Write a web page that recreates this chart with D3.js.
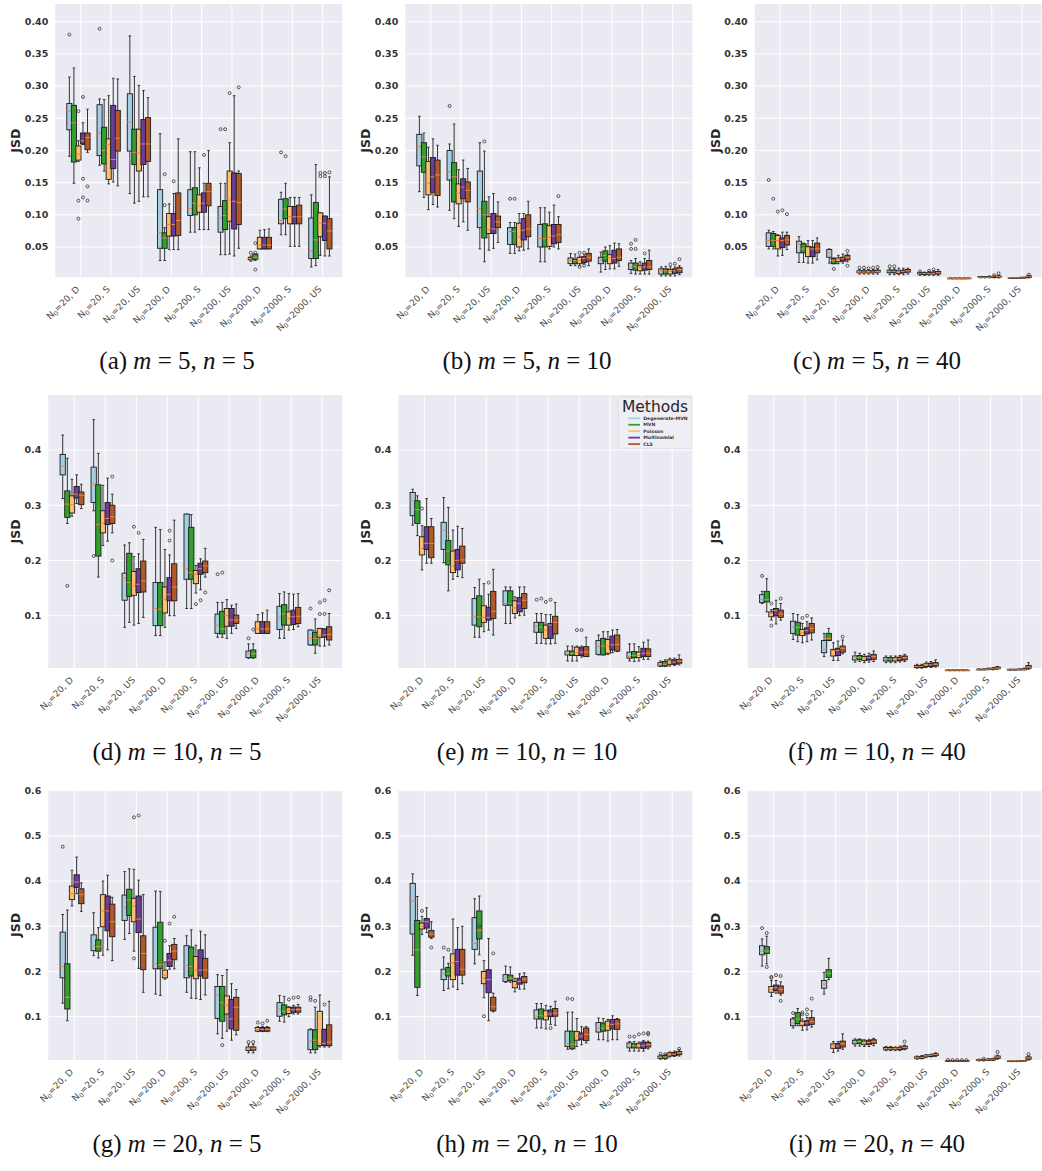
<!DOCTYPE html>
<html>
<head>
<meta charset="utf-8">
<script src="https://cdn.jsdelivr.net/npm/d3@7"></script>
<style>
  body { margin: 0; background: #fff; }
  svg { display: block; }
</style>
</head>
<body>
<svg id="fig" width="1042" height="1171"></svg>
<script>
// ---- categories and series ----
const groupLabels = [["20", "D"], ["20", "S"], ["20", "US"], ["200", "D"], ["200", "S"], ["200", "US"], ["2000", "D"], ["2000", "S"], ["2000", "US"]];
const methods = ["Degenerate-MVN", "MVN", "Poisson", "Multinomial", "CLS"];
const methodColors = ["#a6cee3", "#33a02c", "#fdbf6f", "#6a3d9a", "#b15928"];

// y tick labels for each row of panels
const ticksRow1 = [0.05, 0.10, 0.15, 0.20, 0.25, 0.30, 0.35, 0.40];
const ticksRow2 = [0.1, 0.2, 0.3, 0.4];
const ticksRow3 = [0.1, 0.2, 0.3, 0.4, 0.5, 0.6];

// panel captions: tag, m, n
const captionTags = ["a", "b", "c", "d", "e", "f", "g", "h", "i"];
const captionM = [5, 5, 5, 10, 10, 10, 20, 20, 20];
const captionN = [5, 10, 40, 5, 10, 40, 5, 10, 40];

// Box statistics per group (9) and method (5): [lowWhisker, q1, median, q3, highWhisker, outliers]
const panelA = [
  [[0.191,0.232,0.261,0.273,0.314,[0.380]],[0.149,0.182,0.243,0.270,0.328,[]],[0.183,0.185,0.194,0.207,0.215,[0.261,0.122,0.094]],[0.209,0.210,0.215,0.227,0.243,[0.283,0.156,0.127]],[0.197,0.201,0.220,0.227,0.264,[0.144,0.122]]],
  [[0.177,0.192,0.227,0.271,0.280,[0.389]],[0.168,0.179,0.200,0.236,0.279,[]],[0.148,0.155,0.209,0.218,0.285,[]],[0.151,0.172,0.186,0.270,0.312,[]],[0.145,0.199,0.219,0.262,0.311,[]]],
  [[0.133,0.199,0.244,0.288,0.378,[]],[0.118,0.178,0.197,0.233,0.315,[]],[0.121,0.168,0.196,0.233,0.301,[]],[0.128,0.178,0.210,0.248,0.293,[]],[0.128,0.183,0.210,0.251,0.282,[]]],
  [[0.029,0.048,0.072,0.139,0.226,[]],[0.029,0.048,0.064,0.072,0.080,[0.163,0.115]],[0.046,0.067,0.085,0.102,0.117,[]],[0.046,0.067,0.085,0.102,0.133,[0.152]],[0.046,0.068,0.091,0.134,0.218,[]]],
  [[0.073,0.099,0.110,0.139,0.198,[]],[0.073,0.100,0.118,0.142,0.198,[]],[0.077,0.104,0.114,0.131,0.173,[]],[0.077,0.104,0.118,0.134,0.149,[0.193]],[0.077,0.114,0.136,0.149,0.200,[]]],
  [[0.038,0.073,0.095,0.113,0.149,[0.233]],[0.038,0.077,0.099,0.122,0.149,[0.233]],[0.039,0.090,0.123,0.168,0.212,[0.289]],[0.036,0.078,0.121,0.165,0.285,[]],[0.048,0.085,0.119,0.164,0.168,[0.298]]],
  [[0.028,0.030,0.032,0.034,0.036,[0.041]],[0.029,0.031,0.034,0.039,0.039,[0.041,0.056,0.015]],[0.047,0.047,0.053,0.065,0.076,[]],[0.047,0.047,0.053,0.065,0.077,[]],[0.047,0.047,0.053,0.065,0.078,[]]],
  [[0.069,0.086,0.091,0.124,0.135,[0.197]],[0.069,0.094,0.109,0.125,0.149,[0.191]],[0.051,0.086,0.097,0.113,0.127,[]],[0.051,0.086,0.097,0.113,0.127,[]],[0.051,0.086,0.097,0.115,0.127,[]]],
  [[0.019,0.032,0.044,0.095,0.131,[]],[0.021,0.032,0.061,0.119,0.178,[]],[0.037,0.066,0.087,0.103,0.103,[0.165,0.160]],[0.036,0.060,0.087,0.098,0.098,[0.165,0.160]],[0.036,0.047,0.075,0.094,0.159,[0.166]]]
];
const panelB = [
  [[0.136,0.176,0.206,0.225,0.253,[]],[0.127,0.166,0.190,0.212,0.227,[]],[0.108,0.131,0.149,0.183,0.205,[]],[0.116,0.135,0.159,0.189,0.218,[]],[0.112,0.130,0.162,0.185,0.208,[]]],
  [[0.107,0.154,0.167,0.200,0.210,[0.269]],[0.094,0.120,0.159,0.181,0.241,[]],[0.082,0.117,0.134,0.148,0.170,[]],[0.089,0.125,0.143,0.156,0.185,[]],[0.076,0.120,0.138,0.151,0.172,[]]],
  [[0.047,0.080,0.110,0.168,0.212,[]],[0.027,0.064,0.100,0.121,0.199,[0.214]],[0.045,0.071,0.077,0.097,0.128,[]],[0.048,0.071,0.078,0.102,0.133,[]],[0.057,0.080,0.089,0.098,0.120,[]]],
  [[0.040,0.054,0.074,0.080,0.088,[0.125]],[0.040,0.054,0.074,0.080,0.088,[0.125]],[0.044,0.050,0.066,0.087,0.102,[]],[0.045,0.061,0.076,0.094,0.102,[]],[0.047,0.066,0.078,0.100,0.121,[]]],
  [[0.027,0.050,0.063,0.085,0.111,[]],[0.027,0.050,0.063,0.086,0.111,[]],[0.047,0.051,0.065,0.083,0.104,[]],[0.050,0.055,0.067,0.085,0.115,[]],[0.047,0.057,0.069,0.085,0.097,[0.129]]],
  [[0.021,0.024,0.029,0.033,0.040,[]],[0.021,0.024,0.029,0.031,0.039,[]],[0.021,0.024,0.029,0.034,0.036,[0.041,0.019]],[0.024,0.026,0.032,0.035,0.038,[0.041,0.021]],[0.021,0.028,0.034,0.040,0.047,[]]],
  [[0.011,0.024,0.030,0.034,0.042,[]],[0.015,0.028,0.037,0.044,0.050,[]],[0.016,0.024,0.033,0.038,0.052,[]],[0.016,0.025,0.032,0.045,0.056,[]],[0.020,0.029,0.034,0.047,0.055,[]]],
  [[0.009,0.015,0.019,0.025,0.029,[0.055,0.047]],[0.008,0.014,0.020,0.025,0.032,[0.061,0.047]],[0.008,0.013,0.018,0.021,0.027,[]],[0.008,0.014,0.019,0.025,0.032,[0.040]],[0.008,0.015,0.019,0.029,0.045,[]]],
  [[0.005,0.008,0.013,0.016,0.019,[]],[0.005,0.008,0.013,0.016,0.020,[]],[0.005,0.008,0.012,0.015,0.019,[0.023]],[0.005,0.009,0.013,0.016,0.019,[0.024]],[0.007,0.010,0.015,0.018,0.021,[0.031]]]
];
const panelC = [
  [[0.047,0.051,0.060,0.072,0.076,[0.154]],[0.047,0.051,0.060,0.071,0.074,[0.125]],[0.036,0.047,0.060,0.068,0.069,[0.105]],[0.037,0.049,0.060,0.064,0.073,[0.107]],[0.046,0.053,0.061,0.068,0.073,[0.101]]],
  [[0.026,0.041,0.054,0.059,0.066,[]],[0.026,0.041,0.047,0.055,0.056,[]],[0.025,0.035,0.049,0.051,0.060,[]],[0.025,0.035,0.047,0.050,0.060,[]],[0.030,0.041,0.047,0.056,0.064,[]]],
  [[0.025,0.034,0.041,0.046,0.047,[]],[0.024,0.024,0.029,0.032,0.033,[0.016]],[0.024,0.027,0.030,0.033,0.037,[]],[0.025,0.028,0.032,0.034,0.039,[]],[0.027,0.030,0.034,0.037,0.039,[0.044,0.021]]],
  [[0.008,0.010,0.011,0.013,0.015,[0.018]],[0.008,0.010,0.011,0.013,0.015,[0.018]],[0.008,0.010,0.011,0.013,0.015,[0.017]],[0.008,0.010,0.011,0.013,0.015,[0.018]],[0.008,0.011,0.012,0.014,0.016,[0.019]]],
  [[0.007,0.010,0.012,0.014,0.016,[0.020]],[0.007,0.010,0.012,0.014,0.016,[0.020]],[0.007,0.009,0.011,0.013,0.017,[]],[0.007,0.010,0.012,0.014,0.017,[]],[0.008,0.011,0.013,0.015,0.017,[]]],
  [[0.006,0.008,0.009,0.010,0.011,[0.012]],[0.006,0.007,0.009,0.010,0.011,[]],[0.006,0.008,0.009,0.010,0.012,[0.013]],[0.006,0.008,0.009,0.011,0.013,[0.015]],[0.006,0.008,0.010,0.012,0.015,[]]],
  [[0.0008,0.001,0.0012,0.0015,0.002,[]],[0.0008,0.001,0.0012,0.0015,0.002,[]],[0.0008,0.001,0.0012,0.0015,0.002,[]],[0.0008,0.001,0.0012,0.0015,0.002,[]],[0.0008,0.001,0.0013,0.0016,0.002,[]]],
  [[0.002,0.003,0.003,0.004,0.004,[]],[0.002,0.003,0.003,0.004,0.004,[]],[0.002,0.003,0.003,0.004,0.005,[]],[0.002,0.003,0.004,0.004,0.005,[0.006]],[0.002,0.003,0.004,0.005,0.006,[0.009]]],
  [[0.001,0.001,0.002,0.002,0.002,[]],[0.001,0.001,0.002,0.002,0.002,[]],[0.001,0.001,0.002,0.002,0.003,[]],[0.001,0.002,0.002,0.003,0.003,[]],[0.002,0.003,0.004,0.005,0.006,[0.007]]]
];
const panelD = [
  [[0.312,0.355,0.371,0.392,0.427,[]],[0.267,0.278,0.302,0.326,0.385,[0.154]],[0.280,0.286,0.301,0.317,0.347,[]],[0.303,0.313,0.320,0.334,0.355,[]],[0.294,0.301,0.318,0.324,0.338,[]]],
  [[0.290,0.305,0.338,0.369,0.455,[0.208]],[0.170,0.208,0.265,0.337,0.394,[]],[0.227,0.250,0.267,0.290,0.336,[]],[0.235,0.265,0.276,0.305,0.349,[]],[0.250,0.267,0.279,0.300,0.320,[0.352,0.200]]],
  [[0.079,0.128,0.168,0.177,0.228,[]],[0.088,0.135,0.160,0.213,0.232,[]],[0.083,0.137,0.154,0.180,0.207,[0.261]],[0.086,0.142,0.157,0.185,0.212,[0.250]],[0.097,0.143,0.163,0.199,0.238,[]]],
  [[0.064,0.082,0.113,0.160,0.260,[]],[0.064,0.082,0.112,0.160,0.256,[]],[0.079,0.105,0.130,0.152,0.220,[]],[0.100,0.127,0.138,0.169,0.210,[0.254,0.236]],[0.100,0.127,0.152,0.194,0.273,[]]],
  [[0.113,0.166,0.185,0.284,0.284,[]],[0.113,0.166,0.178,0.260,0.283,[]],[0.141,0.158,0.175,0.182,0.191,[0.121]],[0.147,0.175,0.185,0.195,0.203,[0.128]],[0.170,0.178,0.190,0.199,0.222,[0.142]]],
  [[0.061,0.068,0.083,0.103,0.124,[0.175]],[0.061,0.067,0.076,0.108,0.124,[0.178]],[0.059,0.081,0.100,0.113,0.129,[]],[0.068,0.081,0.092,0.113,0.119,[]],[0.077,0.086,0.092,0.101,0.121,[]]],
  [[0.023,0.024,0.031,0.036,0.049,[0.059]],[0.023,0.024,0.031,0.038,0.049,[0.075]],[0.068,0.068,0.076,0.089,0.102,[]],[0.068,0.068,0.076,0.089,0.105,[]],[0.068,0.068,0.076,0.089,0.110,[]]],
  [[0.059,0.075,0.096,0.117,0.140,[]],[0.059,0.083,0.103,0.120,0.143,[]],[0.074,0.083,0.095,0.107,0.140,[]],[0.075,0.084,0.098,0.110,0.139,[]],[0.080,0.086,0.099,0.115,0.140,[]]],
  [[0.047,0.047,0.059,0.074,0.074,[0.113]],[0.032,0.047,0.059,0.070,0.094,[]],[0.045,0.061,0.065,0.077,0.077,[0.124,0.103]],[0.045,0.061,0.065,0.076,0.076,[0.128,0.103]],[0.047,0.056,0.066,0.080,0.104,[0.146]]]
];
const panelE = [
  [[0.264,0.281,0.309,0.323,0.329,[]],[0.245,0.267,0.292,0.308,0.317,[]],[0.183,0.210,0.222,0.243,0.263,[0.294]],[0.195,0.220,0.231,0.261,0.312,[]],[0.195,0.205,0.231,0.261,0.276,[]]],
  [[0.196,0.220,0.255,0.269,0.314,[]],[0.145,0.192,0.217,0.236,0.296,[]],[0.166,0.178,0.190,0.217,0.255,[]],[0.171,0.183,0.200,0.220,0.262,[]],[0.169,0.195,0.201,0.226,0.258,[]]],
  [[0.061,0.083,0.098,0.131,0.151,[]],[0.061,0.080,0.098,0.136,0.166,[]],[0.071,0.088,0.097,0.118,0.158,[]],[0.074,0.092,0.097,0.115,0.139,[0.160]],[0.065,0.095,0.108,0.144,0.184,[]]],
  [[0.086,0.119,0.122,0.145,0.152,[]],[0.086,0.119,0.122,0.145,0.152,[]],[0.096,0.104,0.114,0.127,0.134,[]],[0.100,0.107,0.122,0.133,0.152,[]],[0.101,0.113,0.128,0.140,0.152,[]]],
  [[0.050,0.070,0.081,0.088,0.104,[0.129]],[0.050,0.070,0.079,0.088,0.104,[0.131]],[0.049,0.059,0.074,0.083,0.102,[0.125]],[0.049,0.059,0.083,0.086,0.102,[0.129]],[0.050,0.067,0.088,0.099,0.124,[]]],
  [[0.018,0.029,0.034,0.036,0.045,[]],[0.018,0.028,0.032,0.036,0.045,[]],[0.018,0.028,0.033,0.043,0.045,[0.074]],[0.025,0.028,0.034,0.042,0.045,[0.074]],[0.026,0.026,0.034,0.044,0.061,[]]],
  [[0.029,0.030,0.044,0.055,0.065,[]],[0.029,0.029,0.045,0.059,0.071,[]],[0.030,0.032,0.045,0.057,0.071,[]],[0.033,0.038,0.047,0.063,0.074,[]],[0.035,0.036,0.048,0.065,0.075,[]]],
  [[0.018,0.023,0.026,0.034,0.049,[]],[0.017,0.024,0.028,0.035,0.049,[]],[0.018,0.024,0.028,0.034,0.044,[]],[0.021,0.026,0.032,0.041,0.052,[]],[0.021,0.026,0.032,0.040,0.056,[]]],
  [[0.008,0.009,0.012,0.015,0.018,[]],[0.008,0.009,0.012,0.017,0.020,[]],[0.009,0.012,0.016,0.020,0.023,[]],[0.010,0.012,0.016,0.020,0.023,[]],[0.011,0.014,0.018,0.021,0.029,[]]]
];
const panelF = [
  [[0.122,0.124,0.129,0.138,0.144,[0.172]],[0.107,0.125,0.129,0.144,0.167,[]],[0.092,0.098,0.104,0.107,0.111,[0.122,0.082]],[0.085,0.100,0.109,0.113,0.128,[]],[0.092,0.097,0.103,0.110,0.122,[0.131]]],
  [[0.057,0.068,0.079,0.090,0.104,[]],[0.053,0.065,0.079,0.088,0.102,[]],[0.051,0.064,0.069,0.075,0.086,[0.096]],[0.053,0.067,0.073,0.078,0.089,[0.100]],[0.056,0.069,0.077,0.086,0.096,[]]],
  [[0.026,0.033,0.039,0.055,0.068,[]],[0.055,0.055,0.059,0.068,0.077,[]],[0.019,0.027,0.037,0.039,0.051,[]],[0.019,0.028,0.037,0.041,0.054,[]],[0.031,0.034,0.041,0.045,0.056,[0.062]]],
  [[0.016,0.020,0.025,0.027,0.034,[]],[0.017,0.021,0.024,0.028,0.032,[]],[0.015,0.019,0.023,0.026,0.030,[]],[0.016,0.020,0.024,0.027,0.032,[]],[0.017,0.021,0.026,0.030,0.036,[]]],
  [[0.015,0.018,0.021,0.024,0.027,[]],[0.015,0.018,0.021,0.024,0.027,[]],[0.015,0.018,0.021,0.024,0.027,[]],[0.016,0.019,0.022,0.025,0.028,[]],[0.017,0.020,0.024,0.027,0.030,[]]],
  [[0.005,0.006,0.008,0.010,0.012,[]],[0.005,0.006,0.008,0.010,0.012,[]],[0.006,0.008,0.010,0.013,0.016,[]],[0.006,0.008,0.011,0.014,0.017,[]],[0.007,0.009,0.012,0.015,0.020,[]]],
  [[0.0008,0.001,0.0012,0.0015,0.002,[]],[0.0008,0.001,0.0012,0.0015,0.002,[]],[0.0008,0.001,0.0012,0.0015,0.002,[]],[0.0008,0.001,0.0012,0.0015,0.002,[]],[0.0008,0.001,0.0012,0.0015,0.002,[]]],
  [[0.002,0.002,0.003,0.003,0.004,[]],[0.002,0.002,0.003,0.003,0.004,[]],[0.002,0.003,0.003,0.004,0.005,[]],[0.002,0.003,0.004,0.005,0.006,[]],[0.003,0.004,0.005,0.007,0.008,[]]],
  [[0.001,0.002,0.002,0.003,0.003,[]],[0.001,0.002,0.002,0.003,0.003,[]],[0.002,0.002,0.003,0.003,0.004,[]],[0.002,0.002,0.003,0.004,0.005,[]],[0.003,0.005,0.007,0.010,0.015,[]]]
];
const panelG = [
  [[0.130,0.186,0.211,0.287,0.326,[0.476]],[0.091,0.117,0.143,0.217,0.336,[]],[0.345,0.359,0.372,0.389,0.424,[]],[0.372,0.386,0.398,0.414,0.453,[]],[0.333,0.350,0.370,0.383,0.396,[]]],
  [[0.235,0.246,0.257,0.281,0.330,[]],[0.230,0.245,0.255,0.270,0.297,[]],[0.236,0.299,0.334,0.370,0.400,[]],[0.248,0.290,0.334,0.367,0.413,[]],[0.224,0.277,0.310,0.349,0.364,[]]],
  [[0.271,0.313,0.342,0.369,0.421,[]],[0.284,0.324,0.358,0.382,0.427,[]],[0.245,0.310,0.345,0.362,0.426,[0.541,0.229]],[0.207,0.286,0.316,0.367,0.402,[0.545]],[0.154,0.204,0.240,0.279,0.370,[]]],
  [[0.150,0.206,0.217,0.298,0.378,[]],[0.147,0.206,0.215,0.309,0.377,[]],[0.183,0.186,0.192,0.203,0.221,[0.268]],[0.205,0.211,0.225,0.240,0.257,[0.306]],[0.206,0.226,0.245,0.260,0.273,[0.321]]],
  [[0.154,0.186,0.213,0.257,0.279,[]],[0.141,0.190,0.211,0.254,0.292,[]],[0.140,0.184,0.204,0.233,0.258,[]],[0.138,0.190,0.203,0.248,0.289,[]],[0.148,0.185,0.203,0.229,0.281,[]]],
  [[0.062,0.096,0.148,0.167,0.193,[]],[0.052,0.090,0.131,0.167,0.191,[0.037]],[0.068,0.106,0.125,0.146,0.204,[]],[0.048,0.073,0.095,0.138,0.173,[]],[0.060,0.070,0.121,0.143,0.160,[]]],
  [[0.020,0.025,0.029,0.033,0.039,[0.044]],[0.020,0.026,0.030,0.033,0.039,[0.044]],[0.067,0.068,0.072,0.076,0.078,[0.087]],[0.067,0.068,0.072,0.076,0.078,[0.085]],[0.067,0.068,0.072,0.076,0.078,[0.091]]],
  [[0.090,0.101,0.117,0.131,0.147,[]],[0.088,0.104,0.112,0.126,0.145,[]],[0.100,0.107,0.114,0.120,0.122,[0.138]],[0.106,0.110,0.115,0.121,0.125,[0.142]],[0.106,0.110,0.116,0.121,0.127,[0.143]]],
  [[0.020,0.027,0.046,0.071,0.073,[0.143,0.137]],[0.020,0.027,0.048,0.071,0.121,[0.135]],[0.033,0.036,0.041,0.112,0.148,[]],[0.033,0.036,0.041,0.072,0.072,[0.127]],[0.033,0.036,0.044,0.082,0.134,[]]]
];
const panelH = [
  [[0.236,0.283,0.356,0.395,0.416,[]],[0.147,0.165,0.248,0.313,0.366,[]],[0.282,0.294,0.300,0.307,0.322,[0.334]],[0.286,0.296,0.310,0.317,0.341,[]],[0.273,0.276,0.283,0.291,0.310,[0.253]]],
  [[0.158,0.182,0.195,0.205,0.232,[0.253]],[0.162,0.190,0.195,0.209,0.218,[0.248]],[0.166,0.182,0.219,0.239,0.316,[]],[0.160,0.192,0.222,0.249,0.297,[]],[0.173,0.192,0.205,0.249,0.300,[]]],
  [[0.217,0.249,0.262,0.319,0.361,[]],[0.237,0.272,0.291,0.334,0.367,[0.300]],[0.142,0.173,0.185,0.200,0.224,[0.101]],[0.091,0.153,0.182,0.204,0.273,[]],[0.111,0.113,0.122,0.143,0.152,[0.240]]],
  [[0.176,0.178,0.186,0.193,0.212,[]],[0.176,0.180,0.185,0.192,0.210,[]],[0.155,0.164,0.170,0.178,0.185,[]],[0.161,0.172,0.178,0.185,0.195,[]],[0.161,0.175,0.183,0.189,0.197,[]]],
  [[0.075,0.095,0.101,0.115,0.129,[]],[0.075,0.095,0.103,0.117,0.129,[]],[0.073,0.093,0.101,0.113,0.125,[]],[0.083,0.100,0.106,0.115,0.123,[0.075]],[0.081,0.101,0.108,0.118,0.134,[]]],
  [[0.028,0.034,0.040,0.068,0.110,[0.140]],[0.028,0.029,0.039,0.068,0.110,[0.139]],[0.034,0.048,0.057,0.067,0.096,[]],[0.038,0.049,0.057,0.064,0.078,[]],[0.042,0.047,0.061,0.075,0.078,[]]],
  [[0.049,0.066,0.075,0.087,0.097,[]],[0.049,0.068,0.075,0.086,0.096,[]],[0.046,0.070,0.079,0.090,0.094,[]],[0.049,0.073,0.083,0.094,0.102,[]],[0.049,0.072,0.084,0.094,0.096,[]]],
  [[0.024,0.031,0.035,0.042,0.045,[0.056]],[0.024,0.031,0.036,0.040,0.045,[0.056]],[0.024,0.031,0.034,0.040,0.044,[0.061]],[0.024,0.030,0.036,0.044,0.047,[0.063]],[0.029,0.033,0.038,0.043,0.046,[0.064,0.061]]],
  [[0.006,0.008,0.010,0.013,0.015,[0.018]],[0.006,0.008,0.011,0.014,0.016,[0.017]],[0.011,0.013,0.016,0.020,0.022,[]],[0.012,0.014,0.017,0.021,0.024,[]],[0.013,0.016,0.020,0.023,0.027,[0.029]]]
];
const panelI = [
  [[0.212,0.237,0.245,0.257,0.272,[0.296]],[0.217,0.240,0.245,0.255,0.278,[0.285,0.210]],[0.145,0.154,0.160,0.167,0.180,[0.188,0.186]],[0.152,0.158,0.164,0.170,0.180,[0.192]],[0.148,0.152,0.160,0.168,0.177,[0.190,0.135]]],
  [[0.075,0.080,0.086,0.095,0.098,[0.108]],[0.080,0.085,0.095,0.109,0.118,[]],[0.070,0.080,0.083,0.090,0.095,[0.109,0.105]],[0.071,0.081,0.086,0.091,0.098,[0.116,0.105]],[0.077,0.083,0.089,0.098,0.113,[0.140]]],
  [[0.150,0.163,0.172,0.180,0.198,[]],[0.182,0.187,0.196,0.204,0.229,[]],[0.021,0.030,0.035,0.040,0.045,[]],[0.024,0.030,0.035,0.041,0.045,[]],[0.028,0.033,0.040,0.046,0.062,[]]],
  [[0.035,0.040,0.045,0.048,0.051,[]],[0.035,0.041,0.045,0.049,0.051,[]],[0.034,0.038,0.041,0.046,0.049,[]],[0.034,0.039,0.043,0.047,0.050,[]],[0.036,0.041,0.045,0.049,0.052,[]]],
  [[0.025,0.027,0.029,0.032,0.034,[]],[0.025,0.027,0.029,0.032,0.034,[]],[0.025,0.027,0.029,0.031,0.033,[]],[0.025,0.027,0.030,0.032,0.035,[]],[0.027,0.029,0.032,0.035,0.037,[0.045]]],
  [[0.006,0.008,0.009,0.011,0.013,[]],[0.007,0.008,0.010,0.012,0.014,[]],[0.010,0.012,0.013,0.015,0.016,[]],[0.011,0.012,0.014,0.015,0.017,[]],[0.012,0.014,0.016,0.018,0.020,[]]],
  [[0.001,0.0015,0.002,0.0025,0.003,[0.004]],[0.001,0.0015,0.002,0.0025,0.003,[0.004]],[0.001,0.0015,0.002,0.0025,0.003,[0.004]],[0.001,0.0015,0.002,0.0025,0.003,[0.004]],[0.001,0.0015,0.002,0.0025,0.003,[0.004]]],
  [[0.002,0.003,0.004,0.005,0.006,[]],[0.002,0.003,0.004,0.005,0.006,[0.007]],[0.003,0.004,0.005,0.006,0.007,[]],[0.003,0.004,0.006,0.007,0.008,[]],[0.006,0.008,0.011,0.013,0.015,[0.022]]],
  [[0.001,0.001,0.002,0.002,0.002,[]],[0.001,0.001,0.002,0.002,0.002,[]],[0.001,0.001,0.002,0.002,0.003,[]],[0.001,0.002,0.002,0.003,0.003,[]],[0.004,0.006,0.009,0.011,0.013,[0.017]]]
];

const panels = [panelA, panelB, panelC, panelD, panelE, panelF, panelG, panelH, panelI];

// ---- layout ----
const colRight = [342.3, 692.3, 1041.7];
const colOrigin = [0, 350, 700];
const rowLayout = [
  { top: 4,   bottom: 277.3, width: 287, yDomain: [0.0029, 0.4275], ticks: ticksRow1, fmt: d3.format(".2f"), capY: 369 },
  { top: 395, bottom: 668,   width: 294, yDomain: [0.0053, 0.4996], ticks: ticksRow2, fmt: d3.format(".1f"), capY: 760 },
  { top: 790, bottom: 1060,  width: 294, yDomain: [0.0042, 0.6015], ticks: ticksRow3, fmt: d3.format(".1f"), capY: 1152 }
];
const offsets = [-0.375, -0.225, -0.075, 0.075, 0.225];
const boxW = 0.17;

const svg = d3.select("#fig");
svg.append("rect").attr("width", 1042).attr("height", 1171).attr("fill", "#fff");

panels.forEach((data, p) => {
  const col = p % 3, row = Math.floor(p / 3);
  const L = rowLayout[row];
  const right = colRight[col], left = right - L.width;
  const x = d3.scaleLinear().domain([-0.84, 8.65]).range([left, right]);
  const y = d3.scaleLinear().domain(L.yDomain).range([L.bottom, L.top]);
  const g = svg.append("g");

  // background and grid
  g.append("rect").attr("x", left).attr("y", L.top)
    .attr("width", right - left).attr("height", L.bottom - L.top).attr("fill", "#eaeaf2");
  g.selectAll("line.hg").data(L.ticks).join("line")
    .attr("x1", left).attr("x2", right)
    .attr("y1", d => y(d)).attr("y2", d => y(d))
    .attr("stroke", "#fff").attr("stroke-width", 1);
  g.selectAll("line.vg").data(d3.range(9)).join("line")
    .attr("x1", d => x(d)).attr("x2", d => x(d))
    .attr("y1", L.top).attr("y2", L.bottom)
    .attr("stroke", "#fff").attr("stroke-width", 1);

  // y tick labels
  g.selectAll("text.yt").data(L.ticks).join("text")
    .attr("x", left - 7).attr("y", d => y(d)).attr("dy", "0.35em")
    .attr("text-anchor", "end")
    .attr("font-family", "DejaVu Sans, sans-serif").attr("font-weight", "bold")
    .attr("font-size", 9.5).attr("fill", "#333")
    .text(d => L.fmt(d));

  // y axis title
  const cy = (L.top + L.bottom) / 2;
  g.append("text")
    .attr("transform", `translate(${colOrigin[col] + 20},${cy}) rotate(-90)`)
    .attr("text-anchor", "middle")
    .attr("font-family", "DejaVu Sans, sans-serif").attr("font-weight", "bold")
    .attr("font-size", 12.5).attr("fill", "#262626")
    .text("JSD");

  // x tick labels (rotated)
  groupLabels.forEach((lab, i) => {
    const t = g.append("text")
      .attr("transform", `translate(${x(i) - 0.5},${L.bottom + 12.5}) rotate(-45)`)
      .attr("text-anchor", "end")
      .attr("font-family", "DejaVu Sans, sans-serif")
      .attr("font-size", 9).attr("fill", "#4a4a4a");
    t.append("tspan").text("N");
    t.append("tspan").attr("font-size", 6.5).attr("dy", 2).text("0");
    t.append("tspan").attr("dy", -2).text(`=${lab[0]}, ${lab[1]}`);
  });

  // boxes
  data.forEach((grp, i) => {
    grp.forEach((s, k) => {
      const [lo, q1, med, q3, hi, out] = s;
      const cx = x(i + offsets[k]);
      const hw = (x(boxW) - x(0)) / 2;
      const bg = g.append("g");
      bg.append("line").attr("x1", cx).attr("x2", cx).attr("y1", y(lo)).attr("y2", y(q1))
        .attr("stroke", "#333").attr("stroke-width", 1);
      bg.append("line").attr("x1", cx).attr("x2", cx).attr("y1", y(q3)).attr("y2", y(hi))
        .attr("stroke", "#333").attr("stroke-width", 1);
      [lo, hi].forEach(v => bg.append("line")
        .attr("x1", cx - hw / 2).attr("x2", cx + hw / 2).attr("y1", y(v)).attr("y2", y(v))
        .attr("stroke", "#333").attr("stroke-width", 1));
      bg.append("rect").attr("x", cx - hw).attr("width", 2 * hw)
        .attr("y", y(q3)).attr("height", Math.max(0.6, y(q1) - y(q3)))
        .attr("fill", methodColors[k]).attr("stroke", "#1a1a1a").attr("stroke-width", 0.9);
      bg.append("line").attr("x1", cx - hw).attr("x2", cx + hw).attr("y1", y(med)).attr("y2", y(med))
        .attr("stroke", "#e8864a").attr("stroke-width", 1);
      bg.selectAll("circle").data(out).join("circle")
        .attr("cx", cx).attr("cy", v => y(v)).attr("r", 1.5)
        .attr("fill", "none").attr("stroke", "#333").attr("stroke-width", 0.8);
    });
  });

  // caption
  const cap = svg.append("text")
    .attr("x", colOrigin[col] + 177).attr("y", L.capY)
    .attr("text-anchor", "middle")
    .attr("font-family", "Liberation Serif, serif").attr("font-size", 25).attr("fill", "#111");
  cap.append("tspan").text(`(${captionTags[p]}) `);
  cap.append("tspan").attr("font-style", "italic").text("m");
  cap.append("tspan").text(` = ${captionM[p]}, `);
  cap.append("tspan").attr("font-style", "italic").text("n");
  cap.append("tspan").text(` = ${captionN[p]}`);

  // legend in the centre panel
  if (p === 4) {
    const lg = svg.append("g");
    lg.append("rect").attr("x", 618.3).attr("y", 397.3).attr("width", 73.4).attr("height", 51)
      .attr("rx", 2).attr("fill", "#eeeef4").attr("stroke", "#dadae2").attr("stroke-width", 0.6);
    lg.append("text").attr("x", 655).attr("y", 411.5).attr("text-anchor", "middle")
      .attr("font-family", "DejaVu Sans, sans-serif").attr("font-size", 15.5).attr("fill", "#262626")
      .text("Methods");
    methods.forEach((m, k) => {
      const yy = 418.3 + k * 6.45;
      lg.append("line").attr("x1", 628.3).attr("x2", 640).attr("y1", yy).attr("y2", yy)
        .attr("stroke", methodColors[k]).attr("stroke-width", 1.8);
      lg.append("text").attr("x", 643.3).attr("y", yy).attr("dy", "0.35em")
        .attr("font-family", "DejaVu Sans, sans-serif").attr("font-weight", "bold")
        .attr("font-size", 4.6).attr("fill", "#333").text(m);
    });
  }
});
</script>
</body>
</html>
